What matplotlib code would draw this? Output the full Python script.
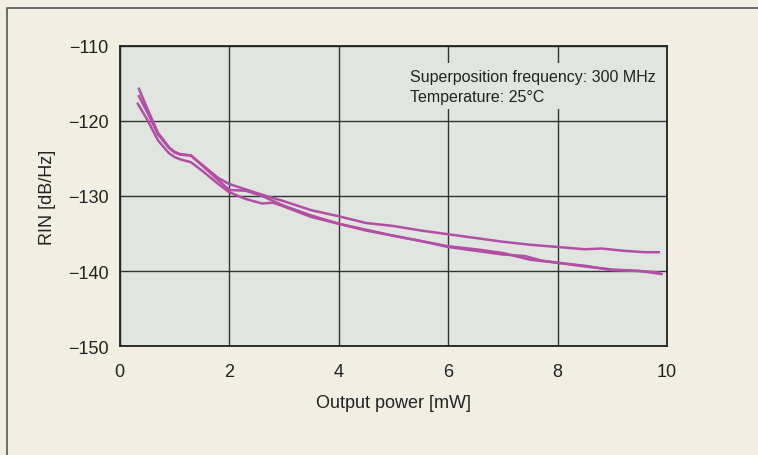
import matplotlib
matplotlib.use("Agg")
import matplotlib.pyplot as plt
from matplotlib.lines import Line2D

plt.rcParams['font.family'] = ['Liberation Sans', 'DejaVu Sans']

# RIN vs output power, three measured samples
x1 = [0.35, 0.5, 0.7, 0.9, 1.0, 1.1, 1.3, 1.5, 1.8, 2.0, 2.5, 3.0, 3.5, 4.0,
      4.5, 5.0, 5.5, 6.0, 6.5, 7.0, 7.5, 8.0, 8.5, 8.8, 9.2, 9.6, 9.85]
y1 = [-116.7, -118.8, -121.8, -123.6, -124.2, -124.5, -124.6, -125.8, -127.6,
      -128.4, -129.6, -130.7, -131.9, -132.7, -133.6, -134.0, -134.6, -135.1,
      -135.6, -136.1, -136.5, -136.8, -137.1, -137.0, -137.3, -137.5, -137.5]

x2 = [0.35, 0.5, 0.7, 0.9, 1.0, 1.1, 1.3, 1.5, 1.8, 2.0, 2.3, 2.6, 3.0, 3.5,
      4.0, 4.5, 5.0, 5.5, 6.0, 6.5, 7.0, 7.5, 8.0, 8.5, 9.0, 9.5, 9.85]
y2 = [-115.7, -118.3, -121.6, -123.5, -124.1, -124.4, -124.6, -125.9, -127.9,
      -129.2, -129.3, -130.0, -131.3, -132.6, -133.7, -134.6, -135.3, -136.0,
      -136.7, -137.1, -137.6, -138.5, -138.9, -139.3, -139.9, -140.0, -140.2]

x3 = [0.33, 0.5, 0.7, 0.9, 1.0, 1.1, 1.3, 1.5, 1.8, 2.0, 2.3, 2.6, 2.8, 3.0,
      3.5, 4.0, 4.5, 5.0, 5.5, 6.0, 6.5, 7.0, 7.4, 7.7, 8.0, 8.5, 9.0, 9.5,
      9.9]
y3 = [-117.7, -119.8, -122.6, -124.3, -124.8, -125.1, -125.5, -126.6, -128.4,
      -129.5, -130.4, -131.0, -130.9, -131.4, -132.8, -133.7, -134.5, -135.3,
      -136.0, -136.8, -137.3, -137.8, -138.0, -138.6, -138.9, -139.4, -139.8,
      -140.0, -140.4]

x_ticks = [0, 2, 4, 6, 8, 10]
y_ticks = [-150, -140, -130, -120, -110]
y_labels = ['\u2212150', '\u2212140', '\u2212130', '\u2212120', '\u2212110']

bg = '#f2eee2'
face = '#e0e5df'
line_col = '#b24fa5'

fig = plt.figure(figsize=(7.58, 4.56), dpi=100, facecolor=bg)
ax = fig.add_axes([0.158, 0.239, 0.722, 0.658])
ax.set_facecolor(face)

for xs, ys in [(x1, y1), (x2, y2), (x3, y3)]:
    ax.plot(xs, ys, color=line_col, lw=1.8, solid_joinstyle='round', zorder=3)

ax.set_xlim(0, 10)
ax.set_ylim(-150, -110)
ax.set_xticks(x_ticks)
ax.set_yticks(y_ticks)
ax.set_yticklabels(y_labels)
ax.tick_params(length=0, labelsize=13, colors='#222222')
ax.tick_params(axis='x', pad=12)
ax.tick_params(axis='y', pad=8)
ax.grid(True, color='#333333', lw=1.0, zorder=1)
ax.set_axisbelow(True)
for s in ax.spines.values():
    s.set_color('#222222')
    s.set_linewidth(1.3)

ax.set_xlabel('Output power [mW]', fontsize=13, color='#222222', labelpad=10)
ax.set_ylabel('RIN [dB/Hz]', fontsize=13, color='#222222', labelpad=9)

ax.text(0.53, 0.865, 'Superposition frequency: 300 MHz\nTemperature: 25\u00b0C',
        transform=ax.transAxes, fontsize=11.5, color='#222222', va='center',
        ha='left', linespacing=1.4, zorder=4,
        bbox=dict(facecolor=face, edgecolor='none', pad=4))

# outer frame (top and left edge only)
fy = 1 - 8.5 / 456
fx = 6.5 / 758
fig.add_artist(Line2D([fx, fx, 1], [0, fy, fy], transform=fig.transFigure,
                      color='#555555', lw=1.2))

fig.savefig('out.png', dpi=100, facecolor=bg)
